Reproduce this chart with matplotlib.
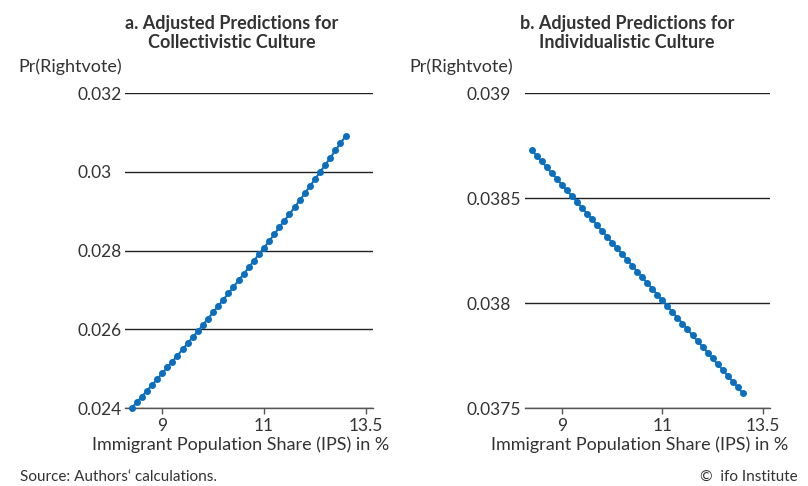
import matplotlib
matplotlib.use("Agg")
import matplotlib.pyplot as plt

plt.rcParams['font.family'] = ['Lato', 'DejaVu Sans']

# Immigrant population share (IPS) in %, 8.4 ... 12.6
ips = [8.4, 8.5, 8.6, 8.7, 8.8, 8.9, 9.0, 9.1, 9.2, 9.3, 9.4, 9.5, 9.6, 9.7,
       9.8, 9.9, 10.0, 10.1, 10.2, 10.3, 10.4, 10.5, 10.6, 10.7, 10.8, 10.9,
       11.0, 11.1, 11.2, 11.3, 11.4, 11.5, 11.6, 11.7, 11.8, 11.9, 12.0, 12.1,
       12.2, 12.3, 12.4, 12.5, 12.6]

# predicted Pr(Rightvote), collectivistic culture
pr_collect = [0.02400, 0.02414, 0.02429, 0.02444, 0.02458, 0.02473, 0.02488,
              0.02503, 0.02518, 0.02533, 0.02549, 0.02564, 0.02580, 0.02595,
              0.02611, 0.02627, 0.02643, 0.02659, 0.02675, 0.02691, 0.02707,
              0.02724, 0.02740, 0.02757, 0.02774, 0.02790, 0.02807, 0.02824,
              0.02841, 0.02859, 0.02876, 0.02892, 0.02910, 0.02927, 0.02945,
              0.02963, 0.02981, 0.02999, 0.03017, 0.03035, 0.03054, 0.03072,
              0.03090]

# predicted Pr(Rightvote), individualistic culture
pr_indiv = [0.038730, 0.038702, 0.038675, 0.038647, 0.038620, 0.038592,
            0.038564, 0.038537, 0.038509, 0.038482, 0.038454, 0.038426,
            0.038399, 0.038371, 0.038344, 0.038316, 0.038288, 0.038261,
            0.038233, 0.038206, 0.038178, 0.038150, 0.038123, 0.038095,
            0.038068, 0.038040, 0.038012, 0.037985, 0.037957, 0.037930,
            0.037902, 0.037874, 0.037847, 0.037819, 0.037792, 0.037764,
            0.037736, 0.037709, 0.037681, 0.037654, 0.037626, 0.037598,
            0.037571]

x_ticks = [9, 11, 13]
x_ticklabels = ['9', '11', '13.5']

yticks_a = [0.024, 0.026, 0.028, 0.03, 0.032]
ylabels_a = ['0.024', '0.026', '0.028', '0.03', '0.032']
yticks_b = [0.0375, 0.038, 0.0385, 0.039]
ylabels_b = ['0.0375', '0.038', '0.0385', '0.039']

blue = '#0b6fbd'
text_col = '#333333'
fs = 13
fs_tick = 12.5

fig = plt.figure(figsize=(8.08, 4.86), dpi=100)
W, H = 808, 486


def make_ax(left, right, top, bottom):
    return fig.add_axes([left / W, 1 - bottom / H, (right - left) / W, (bottom - top) / H])


panels = [
    (make_ax(125, 373, 93, 408), pr_collect, yticks_a, ylabels_a, (0.024, 0.032),
     'a. Adjusted Predictions for\nCollectivistic Culture', 232, 70, 46),
    (make_ax(525, 770, 93, 408), pr_indiv, yticks_b, ylabels_b, (0.0375, 0.039),
     'b. Adjusted Predictions for\nIndividualistic Culture', 627, 461, 56),
]

for ax, vals, yt, yl, ylim, title, title_x, ylab_x, lab_off in panels:
    ax.plot(ips, vals, color=blue, lw=1.5, marker='o', ms=4.0, mec=blue, mfc=blue,
            zorder=3, clip_on=False)
    ax.set_xlim(8.27, 13.14)
    ax.set_ylim(*ylim)
    ax.set_yticks(yt)
    ax.set_yticklabels(yl, ha='left')
    ax.set_xticks(x_ticks)
    ax.set_xticklabels(x_ticklabels)
    for y in yt:
        ax.axhline(y, color='#222222', lw=1.0, zorder=1)
    for s in ['left', 'right', 'top']:
        ax.spines[s].set_visible(False)
    ax.spines['bottom'].set_color('#555555')
    ax.spines['bottom'].set_linewidth(1.0)
    ax.tick_params(axis='y', length=0, pad=lab_off * 0.75, labelsize=fs_tick,
                   labelcolor=text_col)
    ax.tick_params(axis='x', length=4, width=1.0, color='#555555', pad=3,
                   labelsize=fs_tick, labelcolor=text_col)
    ax.set_xlabel('Immigrant Population Share (IPS) in %', fontsize=fs,
                  color=text_col)
    ax.xaxis.set_label_coords(0.5 - 8 / 246, -37 / 315, transform=ax.transAxes)
    ax.xaxis.label.set_va('center')
    fig.text(title_x / W, 1 - 33 / H, title, ha='center', va='center',
             fontsize=fs, fontweight='bold', color=text_col, linespacing=1.2)
    fig.text(ylab_x / W, 1 - 67 / H, 'Pr(Rightvote)', ha='center', va='center',
             fontsize=fs, color=text_col)

fig.text(20 / W, 1 - 477 / H, 'Source: Authors\u2018 calculations.', ha='left',
         va='center', fontsize=11, color=text_col)
fig.text(798 / W, 1 - 477 / H, '\u00a9  ifo Institute', ha='right', va='center',
         fontsize=11, color=text_col)

fig.savefig('out.png', dpi=100)
